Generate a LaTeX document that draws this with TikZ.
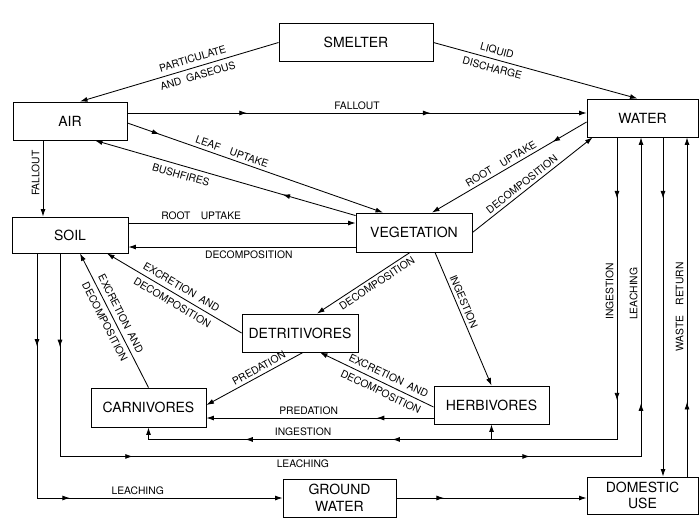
\documentclass[tikz,border=0pt]{standalone}
\usepackage{fontspec}
\setmainfont{TeX Gyre Heros}
\usetikzlibrary{arrows.meta,decorations.markings}

\tikzset{
  box/.style={draw,line width=0.9pt,minimum width=115pt,minimum height=38pt,
    inner sep=0pt,font=\fontsize{14}{15.5}\selectfont},
  flow/.style={line width=0.85pt,-{Latex[length=7.5pt,width=5pt]}},
  midarr/.style={postaction={decorate,decoration={markings,
    mark=at position #1 with {\arrow{Latex[length=7.5pt,width=5pt]}}}}},
  lbl/.style={font=\fontsize{10.3}{12}\selectfont,inner sep=3pt},
}

\begin{document}
\begin{tikzpicture}[x=1pt,y=-1pt]
  \useasboundingbox (0,0) rectangle (700,530);
  % compartments
  \node[box,minimum width=154pt] (smelter) at (356,42.5) {SMELTER};
  \node[box,minimum width=114pt] (air) at (70,121) {AIR};
  \node[box,minimum width=111pt] (water) at (642.5,118) {WATER};
  \node[box,minimum width=116pt,minimum height=36pt] (soil) at (70,235) {SOIL};
  \node[box,minimum width=116pt,minimum height=39pt] (veg) at (414,232.5) {VEGETATION};
  \node[box,minimum width=116pt] (detr) at (300,333) {DETRITIVORES};
  \node[box,minimum height=39pt] (carn) at (148.5,407.5) {CARNIVORES};
  \node[box] (herb) at (491.5,405) {HERBIVORES};
  \node[box,minimum width=113pt,align=center] (ground) at (339.5,498) {GROUND\\[1pt]WATER};
  \node[box,minimum width=111pt,minimum height=37pt,align=center] (domestic) at (642.5,495.5) {DOMESTIC\\[1pt]USE};

  % smelter outputs
  \draw[flow] (smelter.west) -- ([xshift=10pt]air.north)
    node[lbl,sloped,pos=0.42,align=center] (lpart) {PARTICULATE\\[6pt]AND\enspace GASEOUS};
  \draw[flow] (smelter.east) -- ([xshift=-5pt]water.north)
    node[lbl,sloped,pos=0.3,align=center] (lliq) {LIQUID\\[6pt]DISCHARGE};

  % air
  \draw[flow,midarr=0.26,midarr=0.66] ([yshift=8pt]air.east) -- ([yshift=8pt]air.east -| water.west)
    node[lbl,above,pos=0.5] (lfall) {FALLOUT};
  \draw[flow,midarr=0.125] ([yshift=-2pt]air.east) -- ([xshift=-31pt]veg.north)
    node[lbl,sloped,above,pos=0.4] (lleaf) {LEAF\quad UPTAKE};
  \draw[flow,midarr=0.28] ([yshift=-3pt]veg.north west) -- ([xshift=25pt]air.south)
    node[lbl,sloped,below,pos=0.66,inner sep=5pt] (lbush) {BUSHFIRES};
  \draw[flow] ([xshift=-27pt]air.south) -- ([xshift=-27pt]soil.north)
    node[lbl,pos=0.43,rotate=90,anchor=south] (lfall2) {FALLOUT};

  % soil and vegetation
  \draw[flow] ([yshift=12pt]soil.east) -- ([yshift=12pt]soil.east -| veg.west)
    node[lbl,above,pos=0.32] (lroot) {ROOT\quad UPTAKE};
  \draw[flow] ([yshift=-12pt]soil.east -| veg.west) -- ([yshift=-12pt]soil.east)
    node[lbl,below,pos=0.47] (ldec) {DECOMPOSITION};
  \draw[flow,midarr=0.22] ([yshift=-4pt]water.west) -- ([xshift=18pt]veg.north)
    node[lbl,sloped,above,pos=0.53] (lroot2) {ROOT\quad UPTAKE};
  \draw[flow] (veg.east) -- ([xshift=6pt]water.south west)
    node[lbl,sloped,above,pos=0.45] (ldec2) {DECOMPOSITION};
  \draw[flow] ([xshift=-4pt]veg.south) -- ([xshift=17pt]detr.north)
    node[lbl,sloped,below,pos=0.4] (ldec3) {DECOMPOSITION};
  \draw[flow] ([xshift=21pt]veg.south) -- (herb.north)
    node[lbl,sloped,above,pos=0.39] (ling) {INGESTION};

  % food web
  \draw[flow] (detr.west) -- ([xshift=37pt]soil.south)
    node[lbl,sloped,pos=0.48,align=center] (lexc) {EXCRETION\enspace AND\\[6pt]DECOMPOSITION};
  \draw[flow] (carn.north) -- ([xshift=10pt]soil.south)
    node[lbl,sloped,pos=0.52,align=center] (lexc2) {EXCRETION\enspace AND\\[6pt]DECOMPOSITION};
  \draw[flow] ([xshift=3pt]detr.south) -- ([yshift=2.5pt]carn.east)
    node[lbl,sloped,above,pos=0.42] (lpred) {PREDATION};
  \draw[flow] ([yshift=-2pt]herb.west) -- ([xshift=20pt]detr.south)
    node[lbl,sloped,pos=0.43,align=center] (lexc3) {EXCRETION\enspace AND\\[6pt]DECOMPOSITION};
  \draw[flow,midarr=0.25] ([yshift=-13pt]herb.west) -- ([yshift=-13pt]herb.west -| carn.east)
    node[lbl,above,pos=0.55] (lpred2) {PREDATION};

  % water loops
  \draw[flow,midarr=0.078,midarr=0.336,midarr=0.673,midarr=0.861]
    ([xshift=-25.5pt]water.south) -- ++(0,302)
    node[lbl,pos=0.51,rotate=90,anchor=south] (ling2) {INGESTION}
    -| (carn.south) node[lbl,above,pos=0.335] (ling3) {INGESTION};
  \draw[flow] ([yshift=-15pt]herb.south) -- (herb.south);
  \draw[flow,midarr=0.085,midarr=0.25,midarr=0.61,midarr=0.759]
    ([xshift=-10pt]soil.south) -- ++(0,203)
    -| ([xshift=-1.5pt]water.south)
    node[lbl,below,pos=0.209] (lleach) {LEACHING}
    node[lbl,pos=0.755,rotate=90,anchor=south] (lleach2) {LEACHING};
  \draw[flow,midarr=0.19,midarr=0.566] ([xshift=-33pt]soil.south) |- (ground.west)
    node[lbl,above,pos=0.705] (lleach3) {LEACHING};
  \draw[flow,midarr=0.25] (ground.east) -- (ground.east -| domestic.west);
  \draw[flow,midarr=0.18] ([xshift=20.5pt]water.south) -- ([xshift=20.5pt]domestic.north);
  \draw[flow,midarr=0.22] ([xshift=44.5pt]domestic.north) -- ([xshift=44.5pt]water.south)
    node[lbl,sloped,above,pos=0.5] (lwaste) {WASTE\quad RETURN};
\end{tikzpicture}
\end{document}
